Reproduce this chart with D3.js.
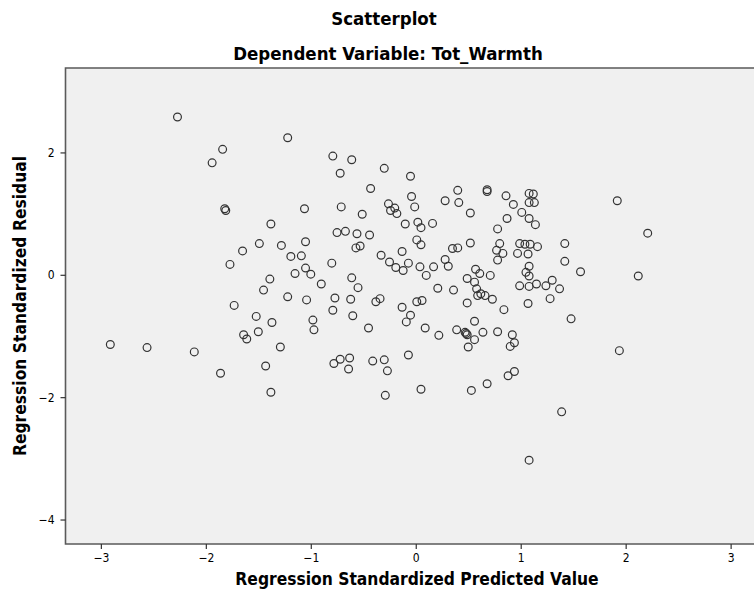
<!DOCTYPE html>
<html>
<head>
<meta charset="utf-8">
<script src="https://cdn.jsdelivr.net/npm/d3@7"></script>
<style>
  html, body { margin: 0; padding: 0; background: #ffffff; }
  svg { display: block; }
  .ttl { font-family: "DejaVu Sans Condensed", "DejaVu Sans", sans-serif; font-weight: bold; fill: #000; }
  .tick text { font-family: "DejaVu Sans Condensed", "DejaVu Sans", sans-serif; font-size: 12px; fill: #000; }
</style>
</head>
<body>
<svg id="chart" width="754" height="601"></svg>
<script>
// Regression standardized predicted values (x) and standardized residuals (y)
const predicted = [
  -2.27, -1.22, -1.84, -1.94, -1.82, -1.81, -1.06, -1.38, -0.79, -0.61,
  -0.72, -0.30, -0.05, -0.43, -0.71, -0.51, -0.04, -0.01, -0.26, -0.20,
  -0.24, -0.18, -0.10, 0.02, 0.05, 0.16, 0.28, 0.40, 0.41, 0.52,
  0.68, 0.68, 0.78, 0.86, 0.93, 0.87, 1.01, 1.08, 1.12, 1.08,
  1.13, 1.08, 1.14, 1.92, -1.49, -1.65, -1.77, -1.28, -1.05, -1.19,
  -1.09, -1.05, -1.00, -1.15, -1.39, -1.45, -1.22, -1.04, -1.73, -0.98,
  -0.97, -1.52, -1.37, -1.50, -1.64, -1.61, -1.29, -2.91, -2.56, -2.11,
  -1.43, -1.86, -1.38, -0.75, -0.67, -0.56, -0.44, -0.57, -0.53, 0.01,
  0.05, -0.13, -0.33, -0.25, -0.19, -0.12, -0.07, 0.04, 0.10, 0.17,
  0.28, 0.31, 0.35, 0.40, 0.52, 0.80, 0.77, 0.83, 0.78, 0.97,
  0.99, 1.04, 1.09, 1.07, 1.16, 1.08, 1.05, 1.08, 0.99, 1.08,
  1.15, 1.24, 1.28, 1.07, 0.84, 0.57, 0.61, 0.71, 0.49, 0.56,
  0.58, 0.62, 0.59, 0.66, 0.73, 0.49, 0.36, 0.21, -0.80, -0.90,
  -0.61, -0.55, -0.77, -0.62, -0.79, -0.60, -0.38, -0.34, -0.13, -0.05,
  -0.09, 0.01, 0.06, -0.45, 0.09, 0.22, 0.39, 0.47, 0.49, 0.48,
  0.56, 0.64, 0.56, 0.50, 0.78, 0.92, 0.94, 0.90, -0.78, -0.72,
  -0.63, -0.64, -0.41, -0.30, -0.27, -0.07, 0.88, 0.94, 0.68, 0.53,
  0.05, -0.29, 2.21, 1.42, 1.42, 1.57, 2.12, 1.30, 1.37, 1.48,
  1.94, 1.08, 1.39
];
const residual = [
  2.58, 2.24, 2.05, 1.83, 1.08, 1.05, 1.08, 0.83, 1.94, 1.88,
  1.66, 1.74, 1.61, 1.41, 1.11, 0.99, 1.28, 1.11, 1.16, 1.09,
  1.05, 1.00, 0.83, 0.86, 0.77, 0.84, 1.21, 1.38, 1.18, 1.01,
  1.39, 1.36, 0.75, 1.29, 1.15, 0.92, 1.02, 1.33, 1.32, 1.18,
  1.18, 0.92, 0.82, 1.21, 0.51, 0.39, 0.17, 0.48, 0.54, 0.30,
  0.31, 0.11, 0.01, 0.02, -0.07, -0.25, -0.36, -0.41, -0.50, -0.74,
  -0.90, -0.68, -0.78, -0.93, -0.98, -1.05, -1.18, -1.14, -1.19, -1.26,
  -1.49, -1.61, -1.92, 0.69, 0.71, 0.67, 0.65, 0.44, 0.47, 0.57,
  0.49, 0.38, 0.32, 0.21, 0.12, 0.07, 0.19, 0.13, -0.01, 0.13,
  0.25, 0.14, 0.43, 0.44, 0.52, 0.51, 0.40, 0.35, 0.24, 0.35,
  0.51, 0.50, 0.50, 0.34, 0.46, 0.14, 0.04, -0.02, -0.18, -0.19,
  -0.15, -0.18, -0.39, -0.47, -0.57, 0.09, 0.02, -0.01, -0.06, -0.12,
  -0.23, -0.31, -0.34, -0.34, -0.40, -0.46, -0.25, -0.22, 0.19, -0.15,
  -0.05, -0.21, -0.38, -0.40, -0.58, -0.67, -0.44, -0.39, -0.53, -0.66,
  -0.77, -0.44, -0.42, -0.87, -0.87, -0.99, -0.90, -0.94, -0.98, -0.96,
  -0.76, -0.94, -1.06, -1.18, -0.93, -0.98, -1.11, -1.17, -1.45, -1.38,
  -1.36, -1.54, -1.41, -1.39, -1.57, -1.31, -1.65, -1.58, -1.78, -1.89,
  -1.87, -1.97, 0.68, 0.51, 0.22, 0.05, -0.02, -0.09, -0.23, -0.72,
  -1.24, -3.03, -2.24
];
const xTicks = [-3, -2, -1, 0, 1, 2, 3];
const yTicks = [-4, -2, 0, 2];

const titleMain = "Scatterplot";
const titleSub = "Dependent Variable: Tot_Warmth";
const xTitle = "Regression Standardized Predicted Value";
const yTitle = "Regression Standardized Residual";

const svg = d3.select("#chart");

// Plot frame; the right side runs past the edge of the canvas
const frame = { left: 65.5, top: 68, right: 766, bottom: 544 };

const x = d3.scaleLinear().domain([-3.337, 3.337]).range([frame.left, frame.right]);
const y = d3.scaleLinear().domain([-4.40, 3.38]).range([frame.bottom, frame.top]);

// Background
svg.append("rect")
  .attr("x", frame.left).attr("y", frame.top)
  .attr("width", frame.right - frame.left).attr("height", frame.bottom - frame.top)
  .attr("fill", "#f0f0f0");

// Points
const pts = predicted.map((v, i) => ({ x: v, y: residual[i] }));
svg.append("g")
  .selectAll("circle")
  .data(pts)
  .join("circle")
  .attr("cx", d => x(d.x))
  .attr("cy", d => y(d.y))
  .attr("r", 3.9)
  .attr("fill", "none")
  .attr("stroke", "#333")
  .attr("stroke-width", 1.2);

// Frame lines
svg.append("path")
  .attr("d", `M${frame.right},${frame.top}H${frame.left}V${frame.bottom}H${frame.right}`)
  .attr("fill", "none")
  .attr("stroke", "#5a5a5a")
  .attr("stroke-width", 1.6);

// Axes
const fmt = d => (d < 0 ? "\u2212" + Math.abs(d) : String(d));
const xAxis = svg.append("g")
  .attr("transform", `translate(0,${frame.bottom})`)
  .call(d3.axisBottom(x).tickValues(xTicks).tickFormat(fmt).tickSize(5).tickPadding(4));
const yAxis = svg.append("g")
  .attr("transform", `translate(${frame.left},0)`)
  .call(d3.axisLeft(y).tickValues(yTicks).tickFormat(fmt).tickSize(5).tickPadding(6));
[xAxis, yAxis].forEach(g => {
  g.select(".domain").remove();
  g.selectAll(".tick line").attr("stroke", "#333").attr("stroke-width", 1.2);
});

// Titles
svg.append("text").attr("class", "ttl")
  .attr("x", 384).attr("y", 25).attr("text-anchor", "middle")
  .style("font-size", "18.5px").text(titleMain);
svg.append("text").attr("class", "ttl")
  .attr("x", 388).attr("y", 60).attr("text-anchor", "middle")
  .style("font-size", "18.5px").text(titleSub);
svg.append("text").attr("class", "ttl")
  .attr("x", 417).attr("y", 585).attr("text-anchor", "middle")
  .style("font-size", "17.3px").text(xTitle);
svg.append("text").attr("class", "ttl")
  .attr("transform", `translate(26,${(frame.top + frame.bottom) / 2}) rotate(-90)`)
  .attr("text-anchor", "middle")
  .style("font-size", "17.3px").text(yTitle);
</script>
</body>
</html>
